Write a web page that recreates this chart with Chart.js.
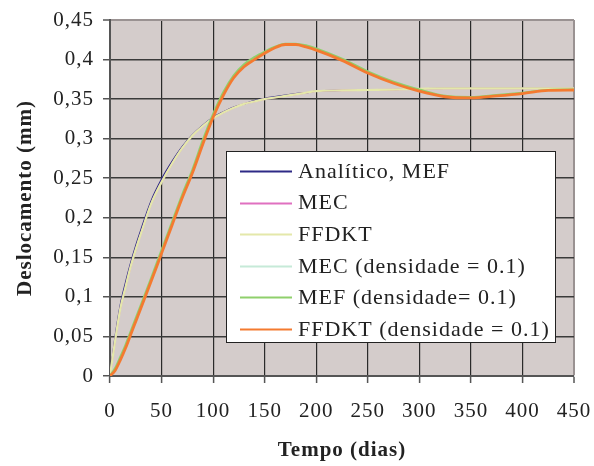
<!DOCTYPE html>
<html>
<head>
<meta charset="utf-8">
<script src="https://cdn.jsdelivr.net/npm/chart.js@4.4.0/dist/chart.umd.min.js"></script>
<style>
  html, body { margin: 0; padding: 0; background: #ffffff; }
  #wrap { width: 594px; height: 466px; }
</style>
</head>
<body>
<div id="wrap"><canvas id="chart" width="594" height="466"></canvas></div>
<script>
// Tempo (dias)
const days = [0, 5, 10, 15, 20, 25, 30, 40, 50, 60, 70, 80, 90, 100, 110, 120, 130, 140, 150,
              160, 170, 180, 190, 200, 225, 250, 275, 300, 325, 350, 375, 400, 425, 450];

// Deslocamento (mm) por método
const analitico = [0, 0.050, 0.090, 0.118, 0.143, 0.165, 0.185, 0.222, 0.249, 0.271, 0.290, 0.305, 0.317,
                   0.327, 0.334, 0.340, 0.344, 0.348, 0.351, 0.353, 0.355, 0.357, 0.358, 0.360, 0.361,
                   0.3615, 0.362, 0.363, 0.3635, 0.3635, 0.3635, 0.3635, 0.3635, 0.3635];
const mec = [0, 0.045, 0.085, 0.112, 0.138, 0.160, 0.180, 0.218, 0.245, 0.268, 0.288, 0.304, 0.316,
             0.326, 0.333, 0.339, 0.344, 0.347, 0.350, 0.352, 0.354, 0.356, 0.358, 0.360, 0.361,
             0.3615, 0.362, 0.363, 0.3635, 0.3635, 0.3635, 0.3635, 0.3635, 0.3635];
const ffdkt = [0, 0.045, 0.085, 0.112, 0.138, 0.160, 0.180, 0.218, 0.245, 0.268, 0.288, 0.304, 0.316,
               0.326, 0.333, 0.339, 0.344, 0.347, 0.350, 0.352, 0.354, 0.356, 0.358, 0.360, 0.361,
               0.3615, 0.362, 0.363, 0.3635, 0.3635, 0.3635, 0.3635, 0.3635, 0.3635];
const mecDens = [0, 0.009, 0.023, 0.038, 0.055, 0.072, 0.089, 0.123, 0.158, 0.193, 0.228, 0.260, 0.297,
                 0.330, 0.358, 0.379, 0.393, 0.402, 0.409, 0.416, 0.419, 0.420, 0.417, 0.413, 0.400,
                 0.384, 0.371, 0.361, 0.3535, 0.352, 0.3545, 0.3575, 0.3612, 0.362];
const mefDens = [0, 0.010, 0.024, 0.039, 0.056, 0.073, 0.090, 0.124, 0.159, 0.194, 0.229, 0.261, 0.298,
                 0.331, 0.359, 0.380, 0.394, 0.403, 0.410, 0.416, 0.420, 0.420, 0.418, 0.414, 0.401,
                 0.385, 0.372, 0.362, 0.354, 0.3525, 0.355, 0.358, 0.3615, 0.362];
const ffdktDens = [0, 0.007, 0.020, 0.035, 0.052, 0.069, 0.086, 0.120, 0.155, 0.190, 0.225, 0.257, 0.293,
                   0.327, 0.355, 0.377, 0.391, 0.400, 0.408, 0.415, 0.419, 0.419, 0.416, 0.412, 0.399,
                   0.383, 0.370, 0.360, 0.353, 0.3515, 0.354, 0.357, 0.361, 0.3615];

const seriesLabels = ['Analítico, MEF', 'MEC', 'FFDKT', 'MEC (densidade = 0.1)',
                      'MEF (densidade= 0.1)', 'FFDKT (densidade = 0.1)'];
const yTickLabels = ['0', '0,05', '0,1', '0,15', '0,2', '0,25', '0,3', '0,35', '0,4', '0,45'];
const xTickLabels = ['0', '50', '100', '150', '200', '250', '300', '350', '400', '450'];

const serif = '"Liberation Serif", "Times New Roman", Times, serif';
Chart.defaults.font.family = serif;
Chart.defaults.color = '#222222';

const pts = arr => arr.map((v, i) => ({ x: days[i], y: v }));

const styles = [
  { color: '#2e2a86', width: 1.3, order: 5 },
  { color: '#e070c0', width: 1.6, order: 4 },
  { color: '#e4e8aa', width: 2.2, order: 3 },
  { color: '#c6ead8', width: 2.2, order: 2 },
  { color: '#8fd06c', width: 2.2, order: 1 },
  { color: '#f47a30', width: 2.8, order: 0 }
];
const values = [analitico, mec, ffdkt, mecDens, mefDens, ffdktDens];

const datasets = values.map((arr, i) => ({
  label: seriesLabels[i],
  data: pts(arr),
  borderColor: styles[i].color,
  backgroundColor: styles[i].color,
  borderWidth: styles[i].width,
  order: styles[i].order,
  pointRadius: 0,
  fill: false,
  cubicInterpolationMode: 'monotone'
}));

// Plot background, letter spacing and the boxed legend
const decor = {
  id: 'decor',
  beforeUpdate(chart) { chart.ctx.letterSpacing = '1px'; },
  beforeDraw(chart) {
    const { ctx, chartArea: a } = chart;
    ctx.save();
    ctx.fillStyle = '#d4cccb';
    ctx.fillRect(a.left, a.top, a.right - a.left, a.bottom - a.top);
    ctx.restore();
    ctx.letterSpacing = '1px';
  },
  afterDraw(chart) {
    const ctx = chart.ctx;
    const bx = 226.5, by = 151.5, bw = 329, bh = 191;
    ctx.save();
    ctx.fillStyle = '#ffffff';
    ctx.fillRect(bx, by, bw, bh);
    ctx.strokeStyle = '#222222';
    ctx.lineWidth = 1;
    ctx.strokeRect(bx, by, bw, bh);
    ctx.font = '22px ' + serif;
    ctx.letterSpacing = '1px';
    ctx.textBaseline = 'middle';
    ctx.textAlign = 'left';
    chart.data.datasets.forEach((ds, i) => {
      const y = 171 + i * 31.6;
      ctx.strokeStyle = ds.borderColor;
      ctx.lineWidth = 2;
      ctx.beginPath();
      ctx.moveTo(240, Math.round(y) + 0.5);
      ctx.lineTo(292, Math.round(y) + 0.5);
      ctx.stroke();
      ctx.fillStyle = '#222222';
      ctx.fillText(ds.label, 298, y + 1);
    });
    ctx.restore();
  }
};

new Chart(document.getElementById('chart'), {
  type: 'line',
  data: { datasets },
  plugins: [decor],
  options: {
    responsive: false,
    devicePixelRatio: 1,
    animation: false,
    layout: { padding: { top: 20, right: 20, left: 0, bottom: 0 } },
    plugins: { legend: { display: false }, tooltip: { enabled: false } },
    scales: {
      x: {
        type: 'linear',
        min: 0, max: 450,
        afterFit(s) { s.height = 90; s.paddingLeft = 0; s.paddingRight = 0; },
        ticks: {
          stepSize: 50,
          padding: 16,
          maxRotation: 0,
          font: { size: 21 },
          color: '#222222',
          callback: v => xTickLabels[Math.round(v / 50)]
        },
        grid: {
          color: c => (c.tick && c.tick.value === 450) ? '#9a9292' : '#2a2a2a',
          lineWidth: c => (c.tick && c.tick.value === 450) ? 2 : 1.2,
          tickLength: 7,
          tickColor: '#555555',
          tickWidth: 1.5
        },
        border: { color: '#555555', width: 2 },
        title: {
          display: true,
          text: 'Tempo (dias)',
          font: { size: 21, weight: 'bold' },
          color: '#222222',
          padding: { top: 0, bottom: 3 }
        }
      },
      y: {
        min: 0, max: 0.45,
        afterFit(s) { s.width = 110; s.paddingTop = 0; s.paddingBottom = 0; },
        ticks: {
          stepSize: 0.05,
          padding: 9,
          font: { size: 21 },
          color: '#222222',
          callback: v => yTickLabels[Math.round(v / 0.05)]
        },
        grid: {
          color: c => (c.tick && Math.abs(c.tick.value - 0.45) < 1e-6) ? '#9a9292' : '#3a3a3a',
          lineWidth: c => (c.tick && Math.abs(c.tick.value - 0.45) < 1e-6) ? 2 : 1.5,
          tickLength: 7,
          tickColor: '#555555',
          tickWidth: 1.5
        },
        border: { color: '#555555', width: 2 },
        title: {
          display: true,
          text: 'Deslocamento (mm)',
          font: { size: 21, weight: 'bold' },
          color: '#222222',
          padding: { top: 13, bottom: 0 }
        }
      }
    }
  }
});
</script>
</body>
</html>
